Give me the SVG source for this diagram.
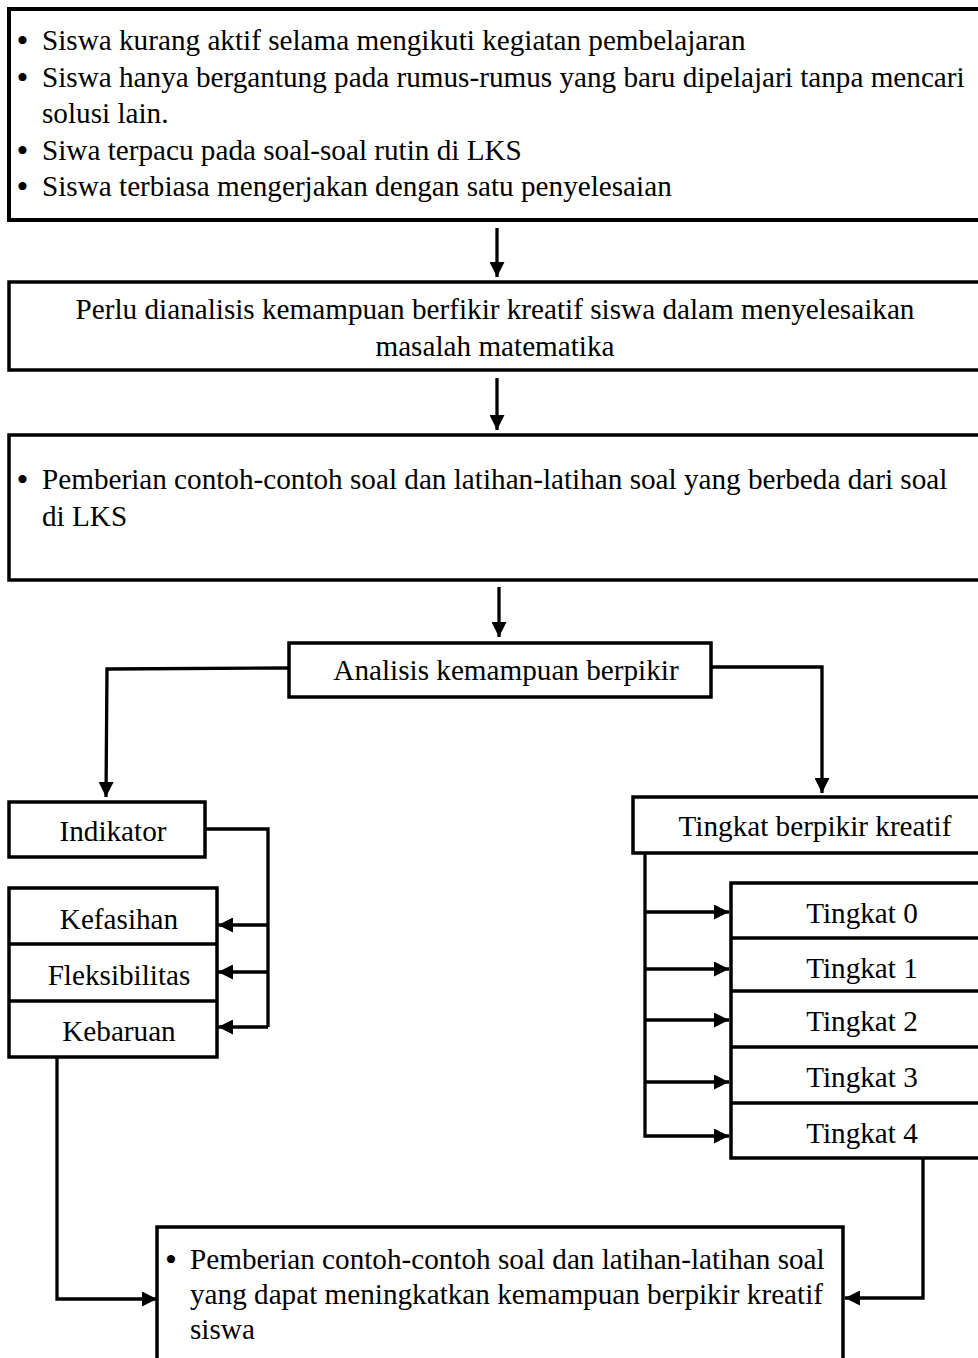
<svg xmlns="http://www.w3.org/2000/svg" width="978" height="1358" viewBox="0 0 978 1358">
<style>
.box{fill:#fff;stroke:#000;stroke-width:3.5}
.t{font-family:"Liberation Serif","Times New Roman",serif;font-size:29.2px;fill:#000}
.b{font-size:34px}
.c{text-anchor:middle}
.ln{fill:none;stroke:#000;stroke-width:3.3}
</style>
<defs>
<marker id="ah" viewBox="0 0 10 10" refX="10" refY="5" markerWidth="15" markerHeight="15" markerUnits="userSpaceOnUse" orient="auto">
<path d="M0,0 L10,5 L0,10 z" fill="#000"/>
</marker>
</defs>
<rect width="978" height="1358" fill="#fff"/>
<g id="connectors">
<line class="ln" x1="497" y1="228" x2="497" y2="277" marker-end="url(#ah)"/>
<line class="ln" x1="497" y1="378" x2="497" y2="430" marker-end="url(#ah)"/>
<line class="ln" x1="499" y1="587" x2="499" y2="637" marker-end="url(#ah)"/>
<polyline class="ln" points="289,668 107,669 106,797" marker-end="url(#ah)"/>
<polyline class="ln" points="711,667 822,667 822,793" marker-end="url(#ah)"/>
<polyline class="ln" points="205,829 268,829 268,1027"/>
<line class="ln" x1="268" y1="925" x2="218" y2="925" marker-end="url(#ah)"/>
<line class="ln" x1="268" y1="972" x2="218" y2="972" marker-end="url(#ah)"/>
<line class="ln" x1="268" y1="1027" x2="218" y2="1027" marker-end="url(#ah)"/>
<polyline class="ln" points="645,853 645,1136 729,1136" marker-end="url(#ah)"/>
<line class="ln" x1="645" y1="912" x2="729" y2="912" marker-end="url(#ah)"/>
<line class="ln" x1="645" y1="969" x2="729" y2="969" marker-end="url(#ah)"/>
<line class="ln" x1="645" y1="1020" x2="729" y2="1020" marker-end="url(#ah)"/>
<line class="ln" x1="645" y1="1082" x2="729" y2="1082" marker-end="url(#ah)"/>
<polyline class="ln" points="57,1057 57,1299 157,1299" marker-end="url(#ah)"/>
<polyline class="ln" points="923,1158 923,1298 845,1298" marker-end="url(#ah)"/>
</g>
<g id="n-masalah">
<rect class="box" x="9" y="9" width="985" height="211" style="stroke-width:4"/>
<text class="t" y="50"><tspan class="b" x="16.5" dy="2">•</tspan><tspan x="42" dy="-2">Siswa kurang aktif selama mengikuti kegiatan pembelajaran</tspan></text>
<text class="t" y="87"><tspan class="b" x="16.5" dy="2">•</tspan><tspan x="42" dy="-2">Siswa hanya bergantung pada rumus-rumus yang baru dipelajari tanpa mencari</tspan></text>
<text class="t" x="42" y="123">solusi lain.</text>
<text class="t" y="160"><tspan class="b" x="16.5" dy="2">•</tspan><tspan x="42" dy="-2">Siwa terpacu pada soal-soal rutin di LKS</tspan></text>
<text class="t" y="196"><tspan class="b" x="16.5" dy="2">•</tspan><tspan x="42" dy="-2">Siswa terbiasa mengerjakan dengan satu penyelesaian</tspan></text>
</g>
<g id="n-perlu">
<rect class="box" x="9" y="282" width="985" height="88"/>
<text class="t c" x="495" y="319">Perlu dianalisis kemampuan berfikir kreatif siswa dalam menyelesaikan</text>
<text class="t c" x="495" y="356">masalah matematika</text>
</g>
<g id="n-pemberian1">
<rect class="box" x="9" y="435" width="985" height="145"/>
<text class="t" y="489"><tspan class="b" x="16.5" dy="2">•</tspan><tspan x="42" dy="-2">Pemberian contoh-contoh soal dan latihan-latihan soal yang berbeda dari soal</tspan></text>
<text class="t" x="42" y="526">di LKS</text>
</g>
<g id="n-analisis">
<rect class="box" x="289" y="643" width="422" height="54"/>
<text class="t c" x="506" y="680">Analisis kemampuan berpikir</text>
</g>
<g id="n-indikator">
<rect class="box" x="9" y="802" width="196" height="55"/>
<text class="t c" x="113" y="841">Indikator</text>
</g>
<g id="n-indikator-list">
<rect class="box" x="9" y="888" width="208" height="169"/>
<line class="ln" x1="9" y1="944" x2="217" y2="944" style="stroke-width:3.5"/>
<line class="ln" x1="9" y1="1001" x2="217" y2="1001" style="stroke-width:3.5"/>
<text class="t c" x="119" y="929">Kefasihan</text>
<text class="t c" x="119" y="985">Fleksibilitas</text>
<text class="t c" x="119" y="1041">Kebaruan</text>
</g>
<g id="n-tingkat">
<rect class="box" x="633" y="797" width="360" height="56"/>
<text class="t c" x="815" y="836">Tingkat berpikir kreatif</text>
</g>
<g id="n-tingkat-list">
<rect class="box" x="731" y="883" width="262" height="275"/>
<line class="ln" x1="731" y1="938" x2="993" y2="938" style="stroke-width:3.5"/>
<line class="ln" x1="731" y1="991" x2="993" y2="991" style="stroke-width:3.5"/>
<line class="ln" x1="731" y1="1047" x2="993" y2="1047" style="stroke-width:3.5"/>
<line class="ln" x1="731" y1="1103" x2="993" y2="1103" style="stroke-width:3.5"/>
<text class="t c" x="862" y="923">Tingkat 0</text>
<text class="t c" x="862" y="978">Tingkat 1</text>
<text class="t c" x="862" y="1031">Tingkat 2</text>
<text class="t c" x="862" y="1087">Tingkat 3</text>
<text class="t c" x="862" y="1143">Tingkat 4</text>
</g>
<g id="n-pemberian2">
<rect class="box" x="157" y="1227" width="686" height="150"/>
<text class="t" y="1269"><tspan class="b" x="165" dy="2">•</tspan><tspan x="190" dy="-2">Pemberian contoh-contoh soal dan latihan-latihan soal</tspan></text>
<text class="t" x="190" y="1304">yang dapat meningkatkan kemampuan berpikir kreatif</text>
<text class="t" x="190" y="1339">siswa</text>
</g>
</svg>
